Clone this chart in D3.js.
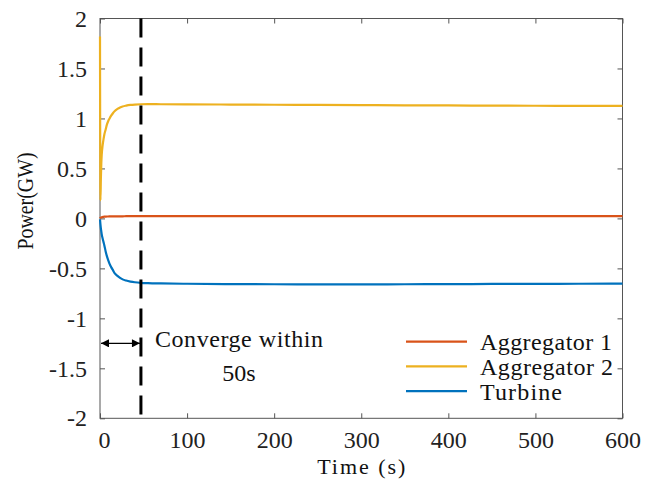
<!DOCTYPE html>
<html>
<head>
<meta charset="utf-8">
<script src="https://cdn.jsdelivr.net/npm/d3@7"></script>
<style>
  html, body { margin: 0; padding: 0; background: #fff; }
</style>
</head>
<body>
<svg id="chart" width="649" height="481"></svg>
<script>
// Sample times (s)
const time = [0, 0.5, 1, 1.5, 2, 3, 4, 5, 6.5, 8, 9.5, 11, 13, 15, 17, 20, 23, 26, 30, 35, 40, 47, 55, 70, 100, 150, 200, 250, 300, 350, 400, 450, 500, 550, 600];

// Power output (GW) of each unit
const aggregator1 = [0.0, 0.005, 0.008, 0.01, 0.012, 0.014, 0.016, 0.017, 0.018, 0.019, 0.019, 0.02, 0.02, 0.02, 0.021, 0.021, 0.021, 0.021, 0.022, 0.022, 0.022, 0.022, 0.022, 0.022, 0.022, 0.022, 0.022, 0.022, 0.022, 0.022, 0.022, 0.022, 0.022, 0.022, 0.022];
const aggregator2 = [1.82, 0.18, 0.4, 0.55, 0.64, 0.73, 0.79, 0.84, 0.89, 0.94, 0.975, 1.0, 1.03, 1.055, 1.075, 1.095, 1.11, 1.12, 1.128, 1.135, 1.139, 1.142, 1.143, 1.142, 1.141, 1.139, 1.137, 1.135, 1.133, 1.131, 1.13, 1.128, 1.127, 1.126, 1.125];
const turbine = [-0.01, -0.06, -0.1, -0.13, -0.16, -0.2, -0.235, -0.27, -0.33, -0.38, -0.42, -0.455, -0.49, -0.52, -0.55, -0.575, -0.595, -0.61, -0.622, -0.632, -0.639, -0.645, -0.648, -0.651, -0.654, -0.657, -0.659, -0.66, -0.66, -0.659, -0.658, -0.656, -0.655, -0.654, -0.652];

const seriesNames = ["Aggregator 1", "Aggregator 2", "Turbine"];
const seriesColors = ["#D95319", "#EDB120", "#0072BD"];
const seriesValues = [aggregator1, aggregator2, turbine];

const xTicks = [0, 100, 200, 300, 400, 500, 600];
const yTicks = [-2, -1.5, -1, -0.5, 0, 0.5, 1, 1.5, 2];

const convergeTime = 47;   // dashed marker (s)
const arrowLevel = -1.25;  // height of the span arrow (GW)

const FONT = "'Liberation Serif', 'Times New Roman', Times, serif";
const FS = 24;

const svg = d3.select("#chart");
const plotL = 100, plotR = 622.5, plotT = 18.5, plotB = 418.3;

const x = d3.scaleLinear().domain([0, 600]).range([plotL, plotR]);
const y = d3.scaleLinear().domain([-2, 2]).range([plotB, plotT]);

const axisColor = "#555";
const tickLen = 5;

// Plot box
svg.append("rect")
  .attr("x", plotL).attr("y", plotT)
  .attr("width", plotR - plotL).attr("height", plotB - plotT)
  .attr("fill", "none").attr("stroke", axisColor).attr("stroke-width", 1);

// Inward ticks on all four sides
const gx = svg.append("g").attr("transform", `translate(0,${plotB})`)
  .call(d3.axisBottom(x).tickValues(xTicks).tickSize(-tickLen).tickPadding(13).tickFormat(d3.format("d")));
const gxTop = svg.append("g").attr("transform", `translate(0,${plotT})`)
  .call(d3.axisTop(x).tickValues(xTicks).tickSize(-tickLen).tickFormat(""));
const gy = svg.append("g").attr("transform", `translate(${plotL},0)`)
  .call(d3.axisLeft(y).tickValues(yTicks).tickSize(-tickLen).tickPadding(13).tickFormat(d => String(d)));
const gyRight = svg.append("g").attr("transform", `translate(${plotR},0)`)
  .call(d3.axisRight(y).tickValues(yTicks).tickSize(-tickLen).tickFormat(""));

[gx, gxTop, gy, gyRight].forEach(g => {
  g.attr("font-family", FONT).attr("font-size", FS);
  g.select(".domain").remove();
  g.selectAll(".tick line").attr("stroke", axisColor).attr("stroke-width", 1);
  g.selectAll(".tick text").attr("fill", "#222");
});
gx.selectAll(".tick text").attr("dy", "0.71em")
  .attr("dx", d => d === 0 ? 4 : 0);

function label(sel) {
  return sel.append("text").attr("font-family", FONT).attr("font-size", FS).attr("fill", "#111");
}

// Axis titles
label(svg)
  .attr("x", (plotL + plotR) / 2).attr("y", 474)
  .attr("font-size", 22)
  .attr("text-anchor", "middle")
  .attr("textLength", 88).attr("lengthAdjust", "spacing")
  .text("Time (s)");
label(svg)
  .attr("transform", "translate(33,201) rotate(-90)")
  .attr("font-size", 23)
  .attr("text-anchor", "middle")
  .attr("textLength", 97).attr("lengthAdjust", "spacingAndGlyphs")
  .text("Power(GW)");

// Series lines
const line = d3.line()
  .x((d, i) => x(time[i]))
  .y(d => y(d))
  .curve(d3.curveMonotoneX);

seriesValues.forEach((vals, k) => {
  svg.append("path")
    .datum(vals)
    .attr("d", line)
    .attr("fill", "none")
    .attr("stroke", seriesColors[k])
    .attr("stroke-width", 2.2)
    .attr("stroke-linejoin", "round");
});

// Convergence marker
svg.append("line")
  .attr("x1", x(convergeTime)).attr("x2", x(convergeTime))
  .attr("y1", plotT).attr("y2", plotB)
  .attr("stroke", "#000").attr("stroke-width", 3)
  .attr("stroke-dasharray", "19,10");

// Double-headed arrow from t=0 to the marker
const defs = svg.append("defs");
["start", "end"].forEach(id => {
  defs.append("marker")
    .attr("id", "arrow-" + id)
    .attr("viewBox", "0 0 10 10")
    .attr("refX", id === "end" ? 10 : 0).attr("refY", 5)
    .attr("markerWidth", 9).attr("markerHeight", 8)
    .attr("markerUnits", "userSpaceOnUse")
    .attr("orient", "auto")
    .append("path")
    .attr("d", id === "end" ? "M0,0 L10,5 L0,10 Z" : "M10,0 L0,5 L10,10 Z")
    .attr("fill", "#000");
});
svg.append("line")
  .attr("x1", x(0) + 1).attr("x2", x(convergeTime) - 1)
  .attr("y1", y(arrowLevel)).attr("y2", y(arrowLevel))
  .attr("stroke", "#000").attr("stroke-width", 1.2)
  .attr("marker-start", "url(#arrow-start)")
  .attr("marker-end", "url(#arrow-end)");

label(svg)
  .attr("x", 239).attr("y", 347)
  .attr("text-anchor", "middle")
  .attr("textLength", 168).attr("lengthAdjust", "spacing")
  .text("Converge within");
label(svg)
  .attr("x", 239).attr("y", 381)
  .attr("text-anchor", "middle")
  .text("50s");

// Legend
const legend = svg.append("g");
const legendWidths = [132, 133, 82];
seriesNames.forEach((name, k) => {
  const ly = 341.7 + k * 24.7;
  legend.append("line")
    .attr("x1", 406).attr("x2", 467)
    .attr("y1", ly).attr("y2", ly)
    .attr("stroke", seriesColors[k]).attr("stroke-width", 2.2);
  label(legend)
    .attr("x", 480).attr("y", ly + 8.5)
    .attr("textLength", legendWidths[k]).attr("lengthAdjust", "spacing")
    .text(name);
});
</script>
</body>
</html>
